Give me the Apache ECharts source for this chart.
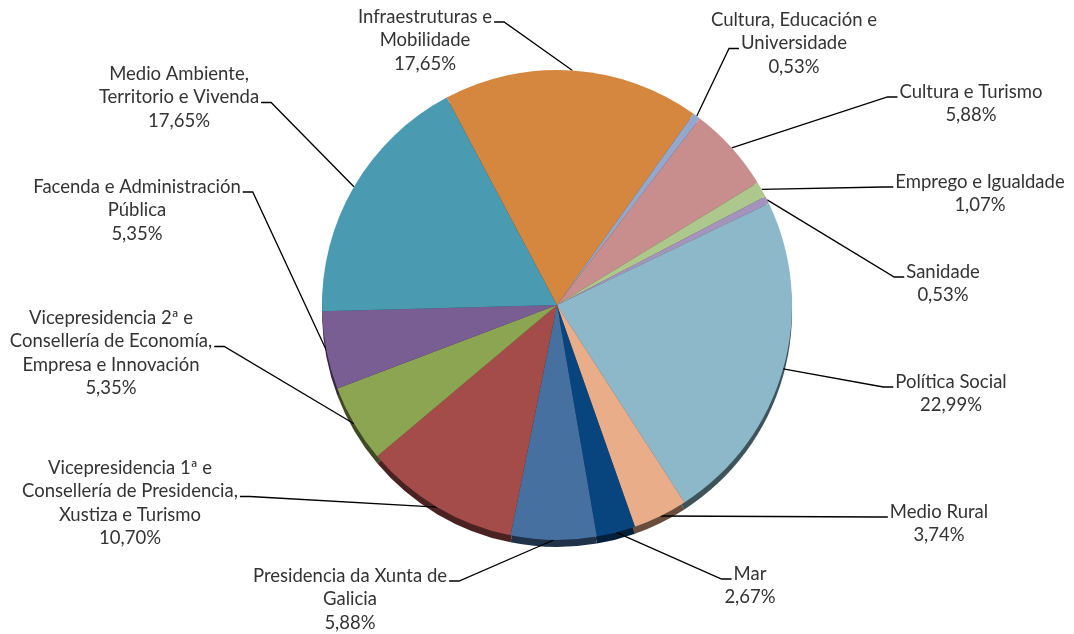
<!DOCTYPE html>
<html>
<head>
<meta charset="utf-8">
<script src="https://cdn.jsdelivr.net/npm/echarts@6/dist/echarts.min.js"></script>
<style>
html,body{margin:0;padding:0;background:#ffffff;}
#chart{width:1074px;height:634px;}
</style>
</head>
<body>
<div id="chart"></div>
<script>
// ---- data (clockwise from the top) ----
const categories = [
  'Infraestruturas e\nMobilidade',
  'Cultura, Educación e\nUniversidade',
  'Cultura e Turismo',
  'Emprego e Igualdade',
  'Sanidade',
  'Política Social',
  'Medio Rural',
  'Mar',
  'Presidencia da Xunta de\nGalicia',
  'Vicepresidencia 1ª e\nConsellería de Presidencia,\nXustiza e Turismo',
  'Vicepresidencia 2ª e\nConsellería de Economía,\nEmpresa e Innovación',
  'Facenda e Administración\nPública',
  'Medio Ambiente,\nTerritorio e Vivenda'
];
const shares = [17.65, 0.53, 5.88, 1.07, 0.53, 22.99, 3.74, 2.67, 5.88, 10.70, 5.35, 5.35, 17.65];

// ---- styles ----
const sliceColors = [
  '#D5873F', '#94A8CE', '#C88E8D', '#ADC78C', '#A393BD', '#8DB8CA', '#E9AD8A',
  '#08457F', '#4670A0', '#A44C49', '#8CA553', '#795E94', '#4A9AB1'
];

// label layout: centre x, centre y of first line, line the leader meets, side it meets
const labelPlacement = [
  { cx: 425, cy: 17,  line: 0, side: 'right' },
  { cx: 794, cy: 20,  line: 1, side: 'left'  },
  { cx: 971, cy: 92,  line: 0, side: 'left'  },
  { cx: 980, cy: 182, line: 0, side: 'left'  },
  { cx: 943, cy: 272, line: 0, side: 'left'  },
  { cx: 951, cy: 382, line: 0, side: 'left'  },
  { cx: 939, cy: 512, line: 0, side: 'left'  },
  { cx: 750, cy: 574, line: 0, side: 'left'  },
  { cx: 350, cy: 576, line: 0, side: 'right' },
  { cx: 130, cy: 468, line: 1, side: 'right' },
  { cx: 111, cy: 318, line: 1, side: 'right' },
  { cx: 137, cy: 187, line: 0, side: 'right' },
  { cx: 179, cy: 74,  line: 1, side: 'right' }
];

const FONT_FAMILY = 'Lato';
const FONT_SIZE = 18.5;
const LINE_H = 23.5;
const PIE_CENTER = [557, 305];
const PIE_RADIUS = 235;
const RIM_DEPTH = 7;

const measureCtx = document.createElement('canvas').getContext('2d');
measureCtx.font = FONT_SIZE + 'px ' + FONT_FAMILY;

function pct(v) { return v.toFixed(2).replace('.', ',') + '%'; }
function labelText(i) { return categories[i] + '\n' + pct(shares[i]); }
function darken(hex, f) {
  const n = parseInt(hex.slice(1), 16);
  const r = Math.round(((n >> 16) & 255) * f);
  const g = Math.round(((n >> 8) & 255) * f);
  const b = Math.round((n & 255) * f);
  return 'rgb(' + r + ',' + g + ',' + b + ')';
}

const pieData = categories.map((c, i) => ({ name: c, value: shares[i], itemStyle: { color: sliceColors[i] } }));
const rimData = categories.map((c, i) => ({ name: c, value: shares[i], itemStyle: { color: darken(sliceColors[i], 0.45) } }));

const chart = echarts.init(document.getElementById('chart'), null, { renderer: 'canvas' });

chart.setOption({
  backgroundColor: '#ffffff',
  animation: false,
  series: [
    {
      type: 'pie',
      name: 'rim',
      silent: true,
      z: 1,
      center: [PIE_CENTER[0], PIE_CENTER[1] + RIM_DEPTH],
      radius: PIE_RADIUS,
      startAngle: 118,
      clockwise: true,
      label: { show: false },
      labelLine: { show: false },
      emphasis: { disabled: true },
      data: rimData
    },
    {
      type: 'pie',
      name: 'Orzamento',
      z: 2,
      center: PIE_CENTER,
      radius: PIE_RADIUS,
      startAngle: 118,
      clockwise: true,
      avoidLabelOverlap: false,
      emphasis: { disabled: true },
      itemStyle: { borderWidth: 0 },
      label: {
        show: true,
        position: 'outside',
        formatter: (p) => labelText(p.dataIndex),
        fontFamily: FONT_FAMILY,
        fontSize: FONT_SIZE,
        lineHeight: LINE_H,
        color: '#333333',
        align: 'center'
      },
      labelLine: {
        show: true,
        length: 20,
        length2: 10,
        smooth: false,
        lineStyle: { color: '#000000', width: 1.3 }
      },
      labelLayout: function (p) {
        const i = p.dataIndex;
        const lp = labelPlacement[i];
        const lines = labelText(i).split('\n');
        const w = measureCtx.measureText(lines[lp.line]).width;
        const top = lp.cy - LINE_H / 2;
        const ay = lp.cy + lp.line * LINE_H + 5;
        const ax = lp.side === 'left' ? lp.cx - w / 2 - 2 : lp.cx + w / 2 + 2;
        const bx = lp.side === 'left' ? ax - 10 : ax + 10;
        let start;
        if (p.labelLinePoints && p.labelLinePoints[0]) {
          start = [p.labelLinePoints[0][0], p.labelLinePoints[0][1]];
        } else {
          start = [bx, ay];
        }
        return {
          x: lp.cx,
          y: top,
          align: 'center',
          verticalAlign: 'top',
          labelLinePoints: [start, [bx, ay], [ax, ay]]
        };
      },
      data: pieData
    }
  ]
});
</script>
</body>
</html>
